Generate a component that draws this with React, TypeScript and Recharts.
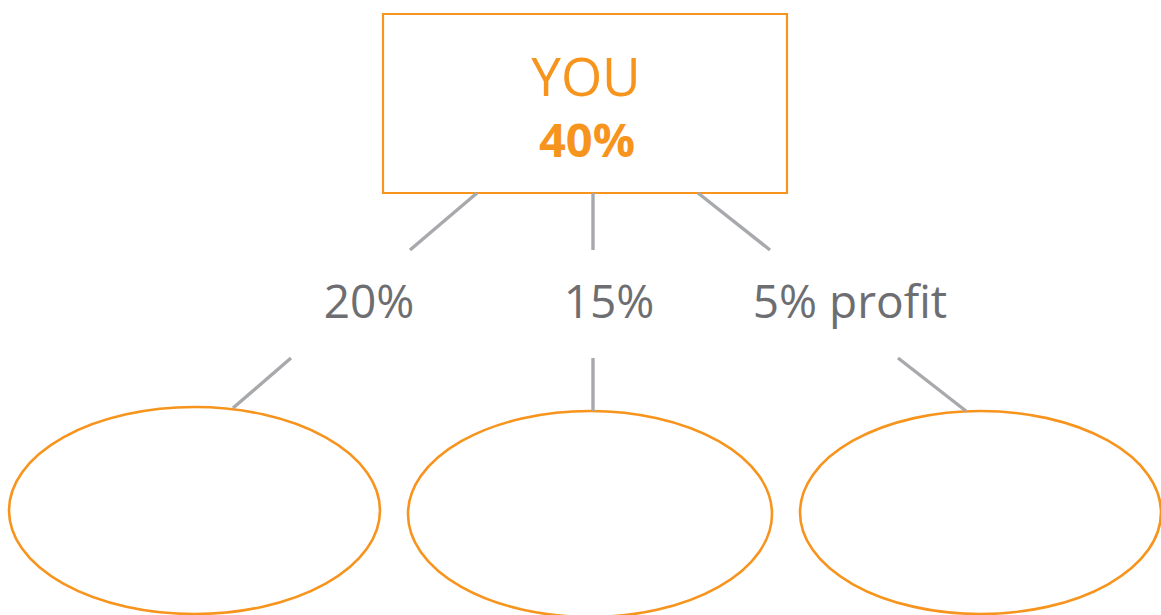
import React from 'react';
import { ComposedChart, XAxis, YAxis, ReferenceArea, ReferenceLine, Scatter } from 'recharts';

// ---- data ----
const rootLabel = 'YOU';
const rootShare = '40%';
const splitLabels = ['20%', '15%', '5% profit'];

// ---- diagram layout (in diagram units, mapped through the chart scales) ----
const W = 1161;
const H = 615;
const ORANGE = '#f7941d';
const GRAY_LINE = '#a7a9ac';
const GRAY_TEXT = '#6d6e71';
const FONT = '"Open Sans", "Noto Sans", sans-serif';

const boxArea = { x1: 383, x2: 787, y1: 14, y2: 193 };
const ellipseAreas = [
  { x1: 9, x2: 380, y1: 407, y2: 614 },
  { x1: 408, x2: 772, y1: 411, y2: 617 },
  { x1: 800, x2: 1161, y1: 411, y2: 614 },
];
const upperConnectors = [
  [{ x: 477, y: 193 }, { x: 410, y: 250 }],
  [{ x: 593, y: 193 }, { x: 593, y: 250 }],
  [{ x: 698, y: 193 }, { x: 770, y: 250 }],
];
const lowerConnectors = [
  [{ x: 291, y: 358 }, { x: 233, y: 408 }],
  [{ x: 593, y: 358 }, { x: 593, y: 411 }],
  [{ x: 898, y: 358 }, { x: 966, y: 411 }],
];
const splitLabelX = [369, 609, 850];
const splitLabelY = 318;

const rootTexts = [
  { x: 586, y: 96, text: rootLabel, size: 53, weight: 400 },
  { x: 587, y: 157, text: rootShare, size: 47, weight: 700 },
];
const splitTexts = splitLabels.map((t, i) => ({ x: splitLabelX[i], y: splitLabelY, text: t }));

const EllipseShape = (props: any) => {
  const { x, y, width, height } = props;
  return (
    <ellipse
      cx={x + width / 2}
      cy={y + height / 2}
      rx={Math.abs(width) / 2}
      ry={Math.abs(height) / 2}
      fill="none"
      stroke={ORANGE}
      strokeWidth={2.6}
    />
  );
};

const RootText = (props: any) => {
  const { cx, cy, payload } = props;
  return (
    <text
      x={cx}
      y={cy}
      textAnchor="middle"
      fill={ORANGE}
      fontFamily={FONT}
      fontSize={payload.size}
      fontWeight={payload.weight}
    >
      {payload.text}
    </text>
  );
};

const SplitText = (props: any) => {
  const { cx, cy, payload } = props;
  return (
    <text x={cx} y={cy} textAnchor="middle" fill={GRAY_TEXT} fontFamily={FONT} fontSize={46}>
      {payload.text}
    </text>
  );
};

export default function App() {
  return (
    <div style={{ position: 'absolute', left: 0, top: 0, width: W, height: H, background: '#fff' }}>
      <ComposedChart width={W} height={H} margin={{ top: 0, right: 0, bottom: 0, left: 0 }}>
        <XAxis type="number" dataKey="x" domain={[0, W]} allowDataOverflow hide />
        <YAxis type="number" dataKey="y" domain={[0, H]} allowDataOverflow reversed hide />
        {upperConnectors.concat(lowerConnectors).map((seg, i) => (
          <ReferenceLine
            key={'c' + i}
            segment={seg}
            stroke={GRAY_LINE}
            strokeWidth={3.4}
            ifOverflow="visible"
          />
        ))}
        <ReferenceArea
          {...boxArea}
          fill="#ffffff"
          fillOpacity={1}
          stroke={ORANGE}
          strokeWidth={2.2}
          ifOverflow="visible"
        />
        {ellipseAreas.map((a, i) => (
          <ReferenceArea key={'e' + i} {...a} ifOverflow="visible" shape={<EllipseShape />} />
        ))}
        <Scatter data={rootTexts} dataKey="y" shape={<RootText />} isAnimationActive={false} />
        <Scatter data={splitTexts} dataKey="y" shape={<SplitText />} isAnimationActive={false} />
      </ComposedChart>
    </div>
  );
}
